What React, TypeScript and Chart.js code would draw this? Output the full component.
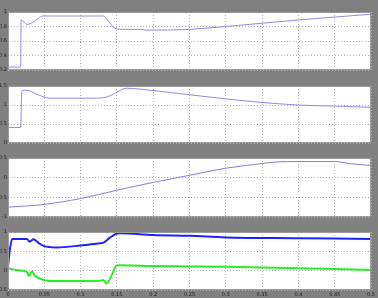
import React, { useEffect, useRef } from "react";
import { Chart, registerables } from "chart.js";

Chart.register(...registerables);

// x ticks (time, s)
const xTicks = [0, 0.05, 0.1, 0.15, 0.2, 0.25, 0.3, 0.35, 0.4, 0.45, 0.5];

// panel 1
const t1 = [0, 0.0175, 0.018, 0.022, 0.026, 0.035, 0.048, 0.131, 0.14, 0.147, 0.16, 0.186, 0.19, 0.25, 0.3, 0.35, 0.4, 0.45, 0.5];
const v1 = [0.24, 0.24, 0.89, 0.86, 0.83, 0.86, 0.945, 0.945, 0.85, 0.775, 0.76, 0.76, 0.75, 0.76, 0.8, 0.845, 0.89, 0.93, 0.97];
const y1Ticks = [0.2, 0.4, 0.6, 0.8, 1];

// panel 2
const t2 = [0, 0.0175, 0.019, 0.026, 0.04, 0.058, 0.122, 0.136, 0.15, 0.163, 0.2, 0.25, 0.3, 0.348, 0.4, 0.45, 0.5];
const v2 = [0.41, 0.41, 1.37, 1.39, 1.28, 1.18, 1.18, 1.21, 1.34, 1.44, 1.38, 1.27, 1.16, 1.07, 1.0, 0.97, 0.94];
const y2Ticks = [0, 0.5, 1, 1.5];

// panel 3
const t3 = [0, 0.05, 0.1, 0.15, 0.2, 0.25, 0.3, 0.35, 0.37, 0.4, 0.45, 0.47, 0.5];
const v3 = [-0.75, -0.68, -0.53, -0.32, -0.12, 0.06, 0.24, 0.36, 0.4, 0.41, 0.41, 0.36, 0.31];
const y3Ticks = [-1, -0.5, 0, 0.5];

// panel 4 (blue and green)
const t4b = [0, 0.003, 0.006, 0.026, 0.03, 0.035, 0.042, 0.049, 0.067, 0.1, 0.127, 0.131, 0.14, 0.15, 0.155, 0.2, 0.25, 0.3, 0.4, 0.5];
const v4b = [0.1, 0.6, 0.82, 0.82, 0.75, 0.81, 0.72, 0.64, 0.6, 0.65, 0.71, 0.72, 0.85, 0.96, 0.97, 0.92, 0.9, 0.86, 0.84, 0.82];
const t4g = [0, 0.005, 0.015, 0.026, 0.029, 0.033, 0.037, 0.049, 0.067, 0.127, 0.131, 0.136, 0.143, 0.15, 0.2, 0.25, 0.3, 0.4, 0.5];
const v4g = [0.07, 0.04, 0.01, -0.03, -0.14, -0.02, -0.13, -0.24, -0.27, -0.26, -0.24, -0.33, -0.11, 0.14, 0.12, 0.11, 0.1, 0.06, 0.02];
const y4Ticks = [-0.5, 0, 0.5, 1];

type Series = { t: number[]; v: number[]; color: string; width: number };
type Panel = { top: number; h: number; yTicks: number[]; series: Series[]; showX: boolean };

const panels: Panel[] = [
  { top: 12, h: 58, yTicks: y1Ticks, series: [{ t: t1, v: v1, color: "#8c8ce6", width: 1 }], showX: false },
  { top: 86, h: 57, yTicks: y2Ticks, series: [{ t: t2, v: v2, color: "#8c8ce6", width: 1 }], showX: false },
  { top: 158, h: 59, yTicks: y3Ticks, series: [{ t: t3, v: v3, color: "#8080e0", width: 1 }], showX: false },
  {
    top: 232,
    h: 58,
    yTicks: y4Ticks,
    series: [
      { t: t4b, v: v4b, color: "#2020ff", width: 2 },
      { t: t4g, v: v4g, color: "#28ee28", width: 2 },
    ],
    showX: true,
  },
];

const PAD = 5;

const framePlugin = {
  id: "frame",
  beforeDraw(chart: any) {
    const { ctx, chartArea: a } = chart;
    ctx.save();
    ctx.fillStyle = "#ffffff";
    ctx.fillRect(a.left, a.top, a.right - a.left, a.bottom - a.top);
    ctx.restore();
  },
  afterDraw(chart: any) {
    const { ctx, chartArea: a } = chart;
    ctx.save();
    ctx.strokeStyle = "#9a9a9a";
    ctx.lineWidth = 1;
    ctx.strokeRect(a.left + 0.5, a.top + 0.5, a.right - a.left - 1, a.bottom - a.top - 1);
    ctx.restore();
  },
};

function fmt(v: number) {
  return String(Number(v.toFixed(2)));
}

function PanelChart({ p }: { p: Panel }) {
  const ref = useRef<HTMLCanvasElement>(null);
  const bottomExtra = p.showX ? 8 : 0;
  const canvasH = p.h + PAD * 2 + bottomExtra;
  useEffect(() => {
    if (!ref.current) return;
    const yMin = p.yTicks[0];
    const yMax = p.yTicks[p.yTicks.length - 1];
    const chart = new Chart(ref.current, {
      type: "line",
      data: {
        datasets: p.series.map((s) => ({
          data: s.t.map((x, i) => ({ x, y: s.v[i] })),
          borderColor: s.color,
          borderWidth: s.width,
          pointRadius: 0,
          fill: false,
          cubicInterpolationMode: "monotone",
        })),
      },
      options: {
        responsive: false,
        animation: false,
        layout: { autoPadding: false, padding: { left: 0, right: 7, top: PAD, bottom: PAD } },
        plugins: { legend: { display: false }, tooltip: { enabled: false } },
        scales: {
          x: {
            type: "linear",
            min: 0,
            max: 0.5,
            afterBuildTicks: (s: any) => {
              s.ticks = xTicks.map((v) => ({ value: v }));
            },
            afterFit: (s: any) => {
              s.height = p.showX ? 8 : 0;
              s.paddingLeft = 0;
              s.paddingRight = 0;
            },
            grid: { color: "#b4b4b4", drawTicks: false },
            border: { display: false, dash: [1, 2] },
            ticks: {
              display: p.showX,
              padding: 2,
              maxRotation: 0,
              autoSkip: false,
              color: "#222",
              font: { size: 5, family: "DejaVu Sans" },
              callback: (v: any) => fmt(Number(v)),
            },
          },
          y: {
            type: "linear",
            min: yMin,
            max: yMax,
            afterBuildTicks: (s: any) => {
              s.ticks = p.yTicks.map((v) => ({ value: v }));
            },
            afterFit: (s: any) => {
              s.width = 8;
              s.paddingTop = 0;
              s.paddingBottom = 0;
            },
            grid: { color: "#b4b4b4", drawTicks: false },
            border: { display: false, dash: [1, 2] },
            ticks: {
              padding: 1,
              color: "#222",
              font: { size: 5, family: "DejaVu Sans" },
              callback: (v: any) => fmt(Number(v)),
            },
          },
        },
      },
      plugins: [framePlugin],
    } as any);
    return () => chart.destroy();
  }, []);
  return (
    <canvas
      ref={ref}
      width={378}
      height={canvasH}
      style={{ position: "absolute", left: 0, top: p.top - PAD, width: 378, height: canvasH, display: "block" }}
    />
  );
}

export default function App() {
  useEffect(() => {
    document.body.style.margin = "0";
  }, []);
  return (
    <div style={{ position: "fixed", left: 0, top: 0, width: 378, height: 298, background: "#808080", overflow: "hidden" }}>
      {panels.map((p, i) => (
        <PanelChart key={i} p={p} />
      ))}
    </div>
  );
}
